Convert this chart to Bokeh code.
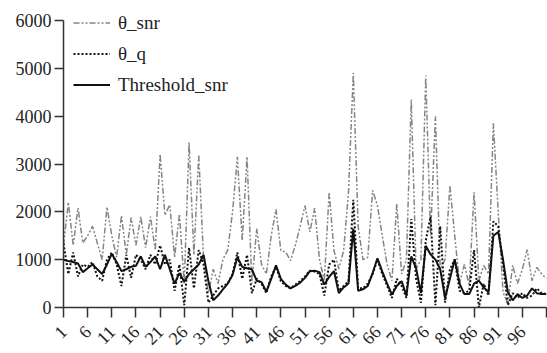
import numpy as np
from bokeh.plotting import figure
from bokeh.models import Range1d, FixedTicker, Legend, LegendItem
from bokeh.embed import file_html
from bokeh.resources import INLINE

x = list(range(1, 102))

theta_snr = [1300, 2200, 1300, 2080, 1350, 1500, 1700, 1350, 1000, 2100,
             1500, 1050, 1920, 1100, 1880, 1300, 1900, 1250, 1900, 1200,
             3200, 1930, 2150, 1050, 1950, 500, 3450, 1100, 3200, 1000,
             300, 800, 500, 1000, 1200, 2000, 3150, 1400, 3150, 500,
             1650, 900, 700, 1500, 2050, 1190, 1160, 980, 1300, 1700,
             2130, 1580, 2080, 1000, 560, 2410, 1190, 810, 1190, 2400,
             4900, 1700, 1000, 1050, 2450, 2130, 1500, 900, 560, 2170,
             700, 1000, 4350, 800, 1000, 4850, 1500, 4000, 800, 1000,
             2550, 1500, 500, 900, 460, 2410, 560, 880, 700, 3850,
             2000, 320, 80, 880, 500, 800, 1210, 560, 840, 700,
             600]

theta_q = [1340, 700, 1150, 650, 900, 850, 950, 650, 560, 1000,
           1150, 900, 450, 1100, 620, 1100, 1000, 800, 1100, 900,
           1300, 900, 1000, 350, 900, 50, 1250, 400, 1200, 900,
           100, 250, 400, 450, 500, 700, 1150, 600, 1100, 300,
           600, 500, 300, 650, 850, 550, 450, 400, 480, 550,
           650, 770, 750, 700, 250, 900, 1000, 350, 450, 550,
           2250, 400, 400, 500, 700, 1000, 700, 450, 200, 600,
           450, 200, 1850, 600, 100, 1400, 1900, 50, 1700, 100,
           800, 1000, 350, 300, 350, 1200, 0, 500, 250, 1800,
           1700, 900, 50, 300, 200, 300, 200, 250, 400, 300,
           280]

threshold_snr = [1000, 970, 950, 920, 740, 820, 900, 800, 700, 900,
                 1120, 950, 760, 800, 850, 870, 1070, 850, 950, 1070,
                 800, 1100, 800, 500, 720, 540, 700, 800, 900, 1100,
                 550, 150, 250, 380, 500, 680, 1050, 850, 820, 800,
                 560, 530, 330, 600, 880, 600, 480, 400, 450, 520,
                 620, 760, 770, 740, 480, 640, 760, 300, 420, 500,
                 1650, 350, 380, 450, 720, 1030, 750, 500, 270, 450,
                 550, 250, 1070, 820, 300, 1290, 1110, 1000, 800, 200,
                 600, 1010, 500, 280, 280, 500, 560, 420, 320, 1500,
                 1580, 1000, 320, 150, 280, 200, 250, 400, 300, 280,
                 280]

x_ticks = list(range(1, 102, 5))
y_ticks = [0, 1000, 2000, 3000, 4000, 5000, 6000]

FONT = "Liberation Serif"

p = figure(width=547, height=353, output_backend="svg", toolbar_location=None,
           x_range=Range1d(1, 101), y_range=Range1d(0, 6293),
           min_border_left=63, min_border_right=1, min_border_top=6,
           min_border_bottom=46)
p.outline_line_color = None
p.xgrid.grid_line_color = None
p.ygrid.grid_line_color = None

r1 = p.line(x, theta_snr, line_color="#858585", line_width=1.5, line_dash="6 2 2 2 2 2")
r2 = p.line(x, theta_q, line_color="#111111", line_width=2, line_dash="2 2")
r3 = p.line(x, threshold_snr, line_color="#111111", line_width=2)

for ax in (p.xaxis[0], p.yaxis[0]):
    ax.axis_line_color = "#333333"
    ax.axis_line_width = 1.5
    ax.major_tick_line_color = "#333333"
    ax.major_tick_line_width = 1.5
    ax.minor_tick_line_color = None
    ax.major_tick_in = 0
    ax.major_label_text_font = FONT
    ax.major_label_text_font_size = "18px"
    ax.major_label_text_color = "#222222"

p.yaxis.ticker = FixedTicker(ticks=y_ticks)
p.yaxis.bounds = (0, 6000)
p.yaxis.major_tick_out = 9
p.yaxis.major_label_standoff = 3

p.xaxis.ticker = FixedTicker(ticks=x_ticks)
p.xaxis.major_tick_out = 10
p.xaxis.major_label_standoff = 11
p.xaxis.major_label_orientation = np.pi / 4
p.xaxis.major_label_overrides = {101: ""}

legend = Legend(items=[LegendItem(label="θ_snr", renderers=[r1]),
                       LegendItem(label="θ_q", renderers=[r2]),
                       LegendItem(label="Threshold_snr", renderers=[r3])],
                location=(10, 208))
legend.padding = 0
legend.margin = 0
legend.spacing = 2
legend.glyph_width = 37
legend.glyph_height = 29
legend.label_height = 29
legend.label_standoff = 8
legend.label_text_font = FONT
legend.label_text_font_size = "19px"
legend.label_text_color = "#222222"
legend.border_line_alpha = 0
legend.background_fill_alpha = 0
p.add_layout(legend, "center")

open("out.html", "w").write(file_html(p, INLINE))
